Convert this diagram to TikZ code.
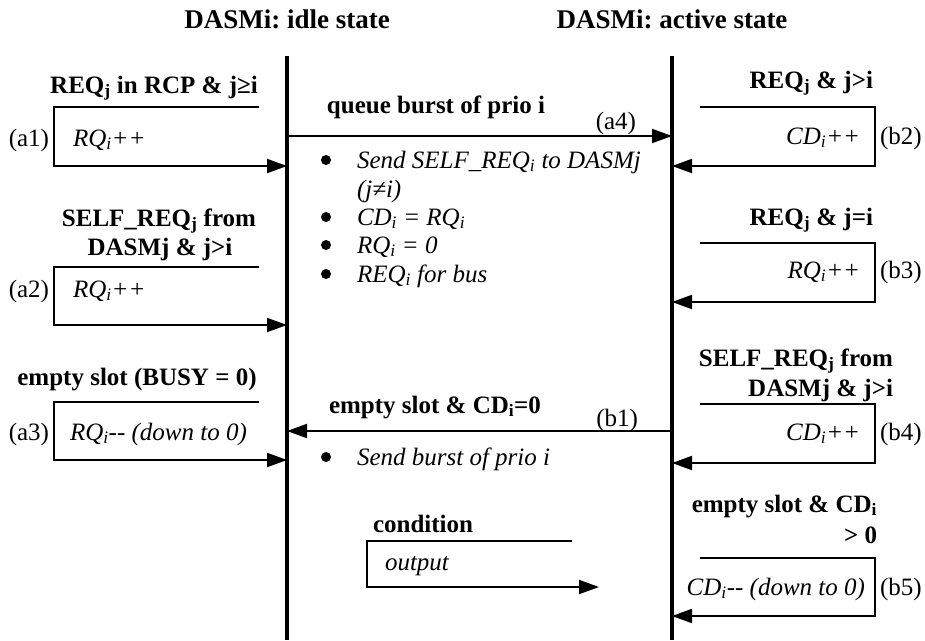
\documentclass[tikz,border=0pt]{standalone}
\usepackage{fontspec}
\setmainfont{Liberation Serif}
\usetikzlibrary{arrows.meta}
\frenchspacing

\begin{document}
\begin{tikzpicture}[x=1pt, y=-1pt,
  every node/.style={inner sep=0pt, outer sep=0pt},
  txt/.style={font=\fontsize{25}{29}\selectfont},
  cond/.style={font=\fontsize{25}{29}\selectfont\bfseries},
  outp/.style={font=\fontsize{25}{29}\selectfont\itshape},
  title/.style={font=\fontsize{27}{31}\selectfont\bfseries},
  lifeline/.style={line width=3.4pt},
  loopline/.style={line width=2pt, -{Triangle[length=20pt,width=14pt]}},
  item/.style={outp, anchor=base west},
  dot/.style={circle, fill=black, minimum size=10pt},
]
\useasboundingbox (0,0) rectangle (925,640);

% state titles and lifelines
\node[title, anchor=base] (tIdle) at (287,28) {DASMi: idle state};
\node[title, anchor=base] (tAct) at (672,28) {DASMi: active state};
\coordinate (idleTop) at (287,56);
\coordinate (idleBot) at (287,640);
\coordinate (actTop) at (672,56);
\coordinate (actBot) at (672,640);
\draw[lifeline] (idleTop) -- (idleBot);
\draw[lifeline] (actTop) -- (actBot);

% ---- idle state self loops (left) ----
% (a1)
\node[cond, anchor=base] (c1) at (154,93) {REQ\textsubscript{j} in RCP \& j≥i};
\coordinate (a1s) at (259,107);
\coordinate (a1c) at (54,107);
\coordinate (a1d) at (54,166);
\draw[loopline] (a1s) -- (a1c) -- (a1d) -- (a1d -| idleTop);
\node[outp, anchor=base west] (o1) at (73,146) {RQ\textsubscript{i}++};
\node[txt, anchor=base east] (ta1) at (49,146) {(a1)};

% (a2)
\node[cond, anchor=base] (c2a) at (159,226) {SELF\_REQ\textsubscript{j} from};
\node[cond, anchor=base] (c2b) at (160,255) {DASMj \& j>i};
\coordinate (a2s) at (259,267);
\coordinate (a2c) at (54,267);
\coordinate (a2d) at (54,325);
\draw[loopline] (a2s) -- (a2c) -- (a2d) -- (a2d -| idleTop);
\node[outp, anchor=base west] (o2) at (73,297) {RQ\textsubscript{i}++};
\node[txt, anchor=base east] (ta2) at (49,297) {(a2)};

% (a3)
\node[cond, anchor=base] (c3) at (137,385) {empty slot (BUSY = 0)};
\coordinate (a3s) at (259,402);
\coordinate (a3c) at (54,402);
\coordinate (a3d) at (54,460);
\draw[loopline] (a3s) -- (a3c) -- (a3d) -- (a3d -| idleTop);
\node[outp, anchor=base west] (o3) at (70,440) {RQ\textsubscript{i}-{}- (down to 0)};
\node[txt, anchor=base east] (ta3) at (49,440) {(a3)};

% ---- transitions between the states ----
% (a4) idle -> active
\coordinate (a4y) at (0,136);
\node[cond, anchor=base] (c4) at (436,113) {queue burst of prio i};
\draw[loopline] (idleTop |- a4y) -- (actTop |- a4y);
\node[txt, anchor=base east] (ta4) at (636,129) {(a4)};
\node[dot] (d1) at (326,160) {};
\node[item] (i1) at (357,168) {Send SELF\_REQ\textsubscript{i} to DASMj};
\node[item] (i1b) at (357,197) {(j≠i)};
\node[dot] (d2) at (326,217) {};
\node[item] (i2) at (357,225) {CD\textsubscript{i} = RQ\textsubscript{i}};
\node[dot] (d3) at (326,245) {};
\node[item] (i3) at (357,253) {RQ\textsubscript{i} = 0};
\node[dot] (d4) at (326,274) {};
\node[item] (i4) at (357,282) {REQ\textsubscript{i} for bus};

% (b1) active -> idle
\coordinate (b1y) at (0,431);
\node[cond, anchor=base] (c5) at (435,413) {empty slot \& CD\textsubscript{i}=0};
\draw[loopline] (actTop |- b1y) -- (idleTop |- b1y);
\node[txt, anchor=base east] (tb1) at (638,426) {(b1)};
\node[dot] (d5) at (326,457) {};
\node[item] (i5) at (357,465) {Send burst of prio i};

% legend
\node[cond, anchor=base west] (lc) at (373,532) {condition};
\coordinate (ls) at (572,541);
\coordinate (lc1) at (367,541);
\coordinate (lc2) at (367,587);
\coordinate (le) at (599,587);
\draw[loopline] (ls) -- (lc1) -- (lc2) -- (le);
\node[outp, anchor=base west] (lo) at (385,570) {output};

% ---- active state self loops (right) ----
% (b2)
\node[cond, anchor=base east] (c6) at (873,88) {REQ\textsubscript{j} \& j>i};
\coordinate (b2s) at (700,107);
\coordinate (b2c) at (875,107);
\coordinate (b2d) at (875,166);
\draw[loopline] (b2s) -- (b2c) -- (b2d) -- (b2d -| actTop);
\node[outp, anchor=base east] (o6) at (860,144) {CD\textsubscript{i}++};
\node[txt, anchor=base west] (tb2) at (880,144) {(b2)};

% (b3)
\node[cond, anchor=base east] (c7) at (873,225) {REQ\textsubscript{j} \& j=i};
\coordinate (b3s) at (700,243);
\coordinate (b3c) at (875,243);
\coordinate (b3d) at (875,302);
\draw[loopline] (b3s) -- (b3c) -- (b3d) -- (b3d -| actTop);
\node[outp, anchor=base east] (o7) at (860,278) {RQ\textsubscript{i}++};
\node[txt, anchor=base west] (tb3) at (880,278) {(b3)};

% (b4)
\node[cond, anchor=base east] (c8a) at (893,366) {SELF\_REQ\textsubscript{j} from};
\node[cond, anchor=base east] (c8b) at (893,396) {DASMj \& j>i};
\coordinate (b4s) at (700,404);
\coordinate (b4c) at (875,404);
\coordinate (b4d) at (875,463);
\draw[loopline] (b4s) -- (b4c) -- (b4d) -- (b4d -| actTop);
\node[outp, anchor=base east] (o8) at (860,440) {CD\textsubscript{i}++};
\node[txt, anchor=base west] (tb4) at (880,440) {(b4)};

% (b5)
\node[cond, anchor=base east] (c9a) at (877,512) {empty slot \& CD\textsubscript{i}};
\node[cond, anchor=base east] (c9b) at (877,543) {> 0};
\coordinate (b5s) at (700,558);
\coordinate (b5c) at (875,558);
\coordinate (b5d) at (875,616);
\draw[loopline] (b5s) -- (b5c) -- (b5d) -- (b5d -| actTop);
\node[outp, anchor=base east] (o9) at (865,595) {CD\textsubscript{i}-{}- (down to 0)};
\node[txt, anchor=base west] (tb5) at (880,595) {(b5)};
\end{tikzpicture}
\end{document}
